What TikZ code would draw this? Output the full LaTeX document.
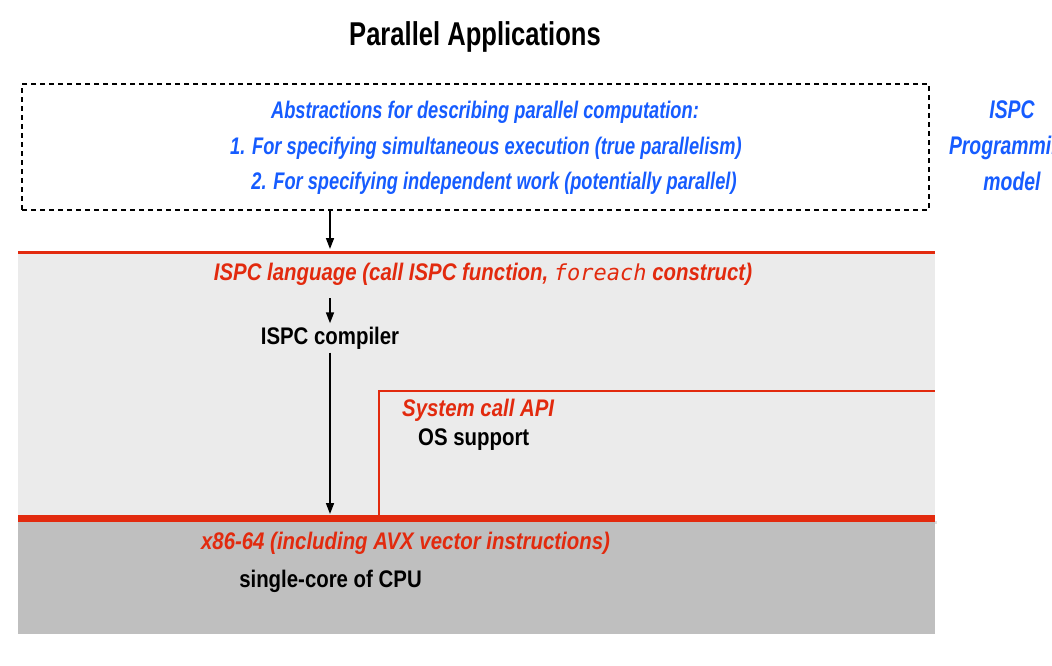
\documentclass[tikz,border=0pt]{standalone}
\usepackage{fontspec}
\setmainfont{Liberation Sans}[FakeStretch=0.76]
\newfontfamily\rdfont{Liberation Sans}[FakeStretch=0.85]
\newfontfamily\ttlfont{Liberation Sans}[FakeStretch=0.775]
\newfontfamily\spmono{DejaVu Sans Mono}
\usetikzlibrary{arrows.meta}
\definecolor{ired}{RGB}{226,42,14}
\definecolor{iblue}{RGB}{22,92,255}
\definecolor{lgray}{RGB}{235,235,235}
\definecolor{dgray}{RGB}{191,191,191}
\begin{document}
\begin{tikzpicture}[x=1pt,y=-1pt,
  ttl/.style={font=\ttlfont\fontsize{33}{38}\selectfont\bfseries},
  bl/.style={text=iblue,font=\fontsize{24}{28}\selectfont\bfseries\itshape},
  rd/.style={text=ired,font=\rdfont\fontsize{24}{28}\selectfont\bfseries\itshape},
  bk/.style={text=black,font=\rdfont\fontsize{24}{28}\selectfont\bfseries},
  arr/.style={-{Triangle[length=11pt,width=8pt]},line width=1.6pt},
  redline/.style={draw=ired,line width=3pt}]
\useasboundingbox (0,0) rectangle (1052,665);
% layers
\fill[lgray] (18,252) rectangle (935,518);
\fill[dgray] (18,518) rectangle (935,634);
\fill[black!25,opacity=.5] (20,521) rectangle (937,524);
% title
\node[ttl] (title) at (475,37) {Parallel Applications};
% dashed box
\node[draw,line width=2.8pt,dash pattern=on 5pt off 4pt,minimum width=907pt,minimum height=126pt,inner sep=0pt] (absbox) at (475.5,147) {};
\node[bl] (abs1) at (485,112) {Abstractions for describing parallel computation:};
\node[bl] (abs2) at (486,148) {1. For specifying simultaneous execution (true parallelism)};
\node[bl] (abs3) at (494,183) {2. For specifying independent work (potentially parallel)};
% side label
\begin{scope}
\clip (0,0) rectangle (1052,665);
\node[bl,align=center,font=\fontsize{25.5}{36}\selectfont\bfseries\itshape] (pm) at (1012,146) {ISPC\\Programming\\model};
\end{scope}
% ISPC language layer
\draw[redline] (18,252) -- (935,252);
\coordinate (langtop) at (330,249);
\node[rd] (lang) at (483,274) {ISPC language (call ISPC function, {\mdseries\spmono\fontsize{22}{24}\selectfont foreach} construct)};
\node[bk] (comp) at (330,338) {ISPC compiler};
\coordinate (absout) at (330,210);
\draw[arr] (absout) -- (langtop);
\coordinate (la) at (330,298);
\draw[arr] (la) -- (comp.north);
\coordinate (isa) at (330,514);
\draw[arr] (comp.south) -- (isa);
% OS layer
\draw[draw=ired,line width=2.2pt] (379,518) -- (379,391) -- (935,391);
\node[rd,anchor=west,inner sep=0pt] (sys) at (402,410) {System call API};
\node[bk,anchor=west,inner sep=0pt] (os) at (418,440) {OS support};
% ISA line
\draw[draw=ired,line width=7pt] (18,518) -- (935,518);
\node[rd] (x86) at (405.5,543) {x86-64 (including AVX vector instructions)};
\node[bk] (cpu) at (330.5,581) {single-core of CPU};
\end{tikzpicture}
\end{document}
